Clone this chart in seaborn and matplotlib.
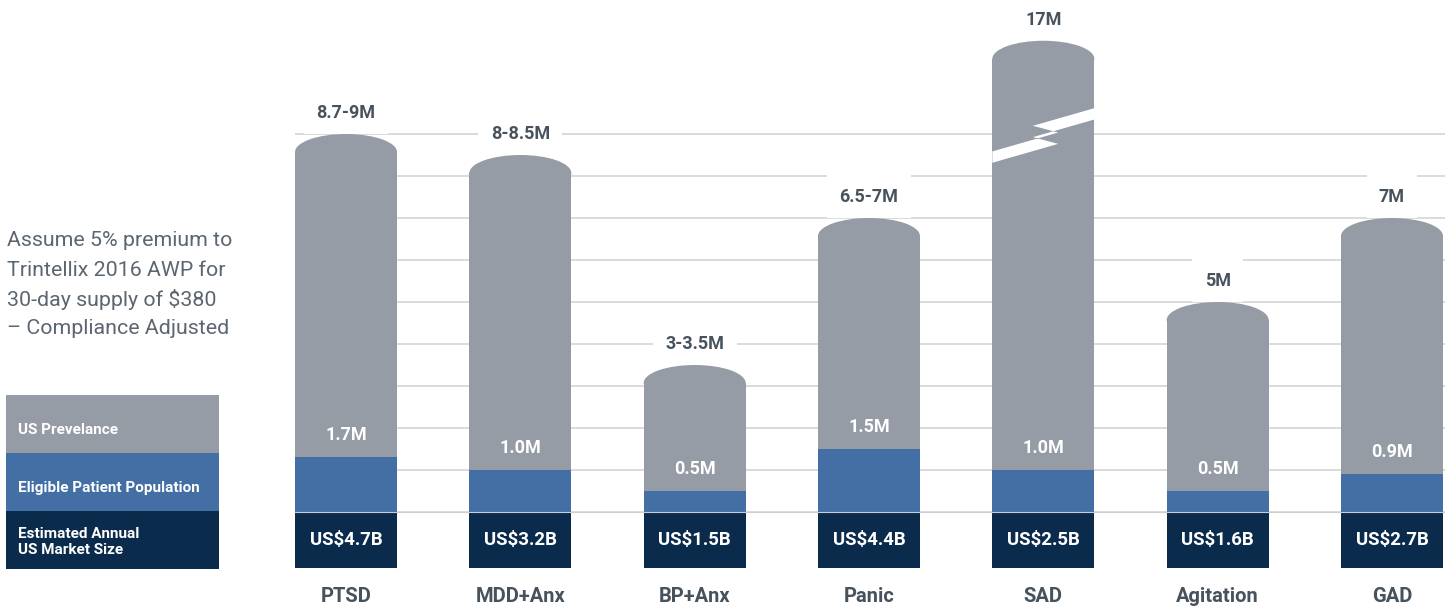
import matplotlib
matplotlib.use("Agg")
import matplotlib.pyplot as plt
from matplotlib.patches import Ellipse, Rectangle, Polygon
import seaborn as sns
import pandas as pd

# ---------------- data ----------------
categories = ["PTSD", "MDD+Anx", "BP+Anx", "Panic", "SAD", "Agitation", "GAD"]
prevalence_labels = ["8.7-9M", "8-8.5M", "3-3.5M", "6.5-7M", "17M", "5M", "7M"]
# drawn heights in millions (SAD bar is broken: true value 17M)
prevalence_height = [9.0, 8.5, 3.5, 7.0, 11.22, 5.0, 7.0]
eligible_height = [1.3, 1.0, 0.5, 1.5, 1.0, 0.5, 0.9]
eligible_labels = ["1.7M", "1.0M", "0.5M", "1.5M", "1.0M", "0.5M", "0.9M"]
market_labels = ["US$4.7B", "US$3.2B", "US$1.5B", "US$4.4B", "US$2.5B", "US$1.6B", "US$2.7B"]
broken_category = "SAD"
grid_levels = list(range(0, 10))

legend_labels = ["US Prevelance", "Eligible Patient Population", "Estimated Annual\nUS Market Size"]
note_lines = ["Assume 5% premium to", "Trintellix 2016 AWP for",
              "30-day supply of $380", "– Compliance Adjusted"]

# ---------------- style ----------------
GRAY = "#969ca6"
BLUE = "#436fa4"
NAVY = "#0b2b4d"
TEXT = "#47525d"
NOTE = "#5c6670"
GRID = "#d8d8d8"
BAR_W = 0.585
CAP = 0.43          # half-height of the rounded top (data units)
BAND = 56 / 42      # depth of the market-size band below zero

sns.set_theme(style="white")
plt.rcParams["font.family"] = ["Roboto", "DejaVu Sans"]

W, H = 1451, 608
fig = plt.figure(figsize=(W / 100, H / 100), dpi=100)
ax = fig.add_axes([295 / W, (H - 568) / H, 1150 / W, 560 / H])

df = pd.DataFrame({
    "category": categories,
    "body": [h - CAP for h in prevalence_height],
    "eligible": eligible_height,
    "band": [-BAND] * len(categories),
})

sns.barplot(data=df, x="category", y="body", color=GRAY, width=BAR_W,
            saturation=1, ax=ax, zorder=2, linewidth=0)
sns.barplot(data=df, x="category", y="eligible", color=BLUE, width=BAR_W,
            saturation=1, ax=ax, zorder=3, linewidth=0)
sns.barplot(data=df, x="category", y="band", color=NAVY, width=BAR_W,
            saturation=1, ax=ax, zorder=3, linewidth=0)

# rounded tops
for i, h in enumerate(prevalence_height):
    ax.add_patch(Ellipse((i, h - CAP), BAR_W, 2 * CAP, facecolor=GRAY,
                         edgecolor="none", zorder=2))

# axis break on SAD bar
bi = categories.index(broken_category)
hw = BAR_W / 2
center = [(hw, 9.48), (-0.06, 9.06), (0.085, 8.90), (-hw, 8.45)]
t = 0.135
upper = [(bi + x, y + t) for x, y in center]
lower = [(bi + x, y - t) for x, y in center][::-1]
ax.add_patch(Polygon(upper + lower, closed=True, facecolor="white",
                     edgecolor="none", zorder=4))

ax.set_xlim(-51 / 174.3, 6 + 53 / 174.3)
ax.set_ylim(-BAND, 12.0)
ax.set_yticks(grid_levels)
ax.set_yticklabels([])
ax.tick_params(axis="both", length=0)
ax.yaxis.grid(True, color=GRID, linewidth=1.3)
ax.xaxis.grid(False)
ax.set_axisbelow(True)
ax.axhline(0, color="#c9cdd4", linewidth=0.8, zorder=5)
for s in ax.spines.values():
    s.set_visible(False)
ax.set_xlabel("")
ax.set_ylabel("")
ax.set_xticks(range(len(categories)))
ax.set_xticklabels(categories, fontsize=14.5, fontweight="bold", color=TEXT)
ax.tick_params(axis="x", pad=14)

OFF = 22 / 42
for i in range(len(categories)):
    ax.text(i, prevalence_height[i] + OFF - 0.02, prevalence_labels[i], ha="center",
            va="center", fontsize=13, fontweight="bold", color=TEXT, zorder=1.5,
            bbox=dict(facecolor="white", edgecolor="none", pad=9))
    ax.text(i, eligible_height[i] + OFF, eligible_labels[i], ha="center",
            va="center", fontsize=13, fontweight="bold", color="white", zorder=6)
    ax.text(i, -BAND / 2, market_labels[i], ha="center", va="center",
            fontsize=13.4, fontweight="bold", color="white", zorder=6)

# left note
for k, line in enumerate(note_lines):
    fig.text(7 / W, 1 - (241 + 29 * k) / H, line, ha="left", va="center",
             fontsize=15.4, color=NOTE)

# legend blocks
legend_colors = [GRAY, BLUE, NAVY]
tops = [395, 453, 511]
for lab, col, top in zip(legend_labels, legend_colors, tops):
    fig.patches.append(Rectangle((6 / W, 1 - (top + 58) / H), 213 / W, 58 / H,
                                 transform=fig.transFigure, facecolor=col,
                                 edgecolor="none"))
    yc = top + 35 if "\n" not in lab else top + 31
    fig.text(18 / W, 1 - yc / H, lab, ha="left", va="center", fontsize=11,
             fontweight="bold", color="white", linespacing=1.1)

fig.savefig("out.png", dpi=100)
